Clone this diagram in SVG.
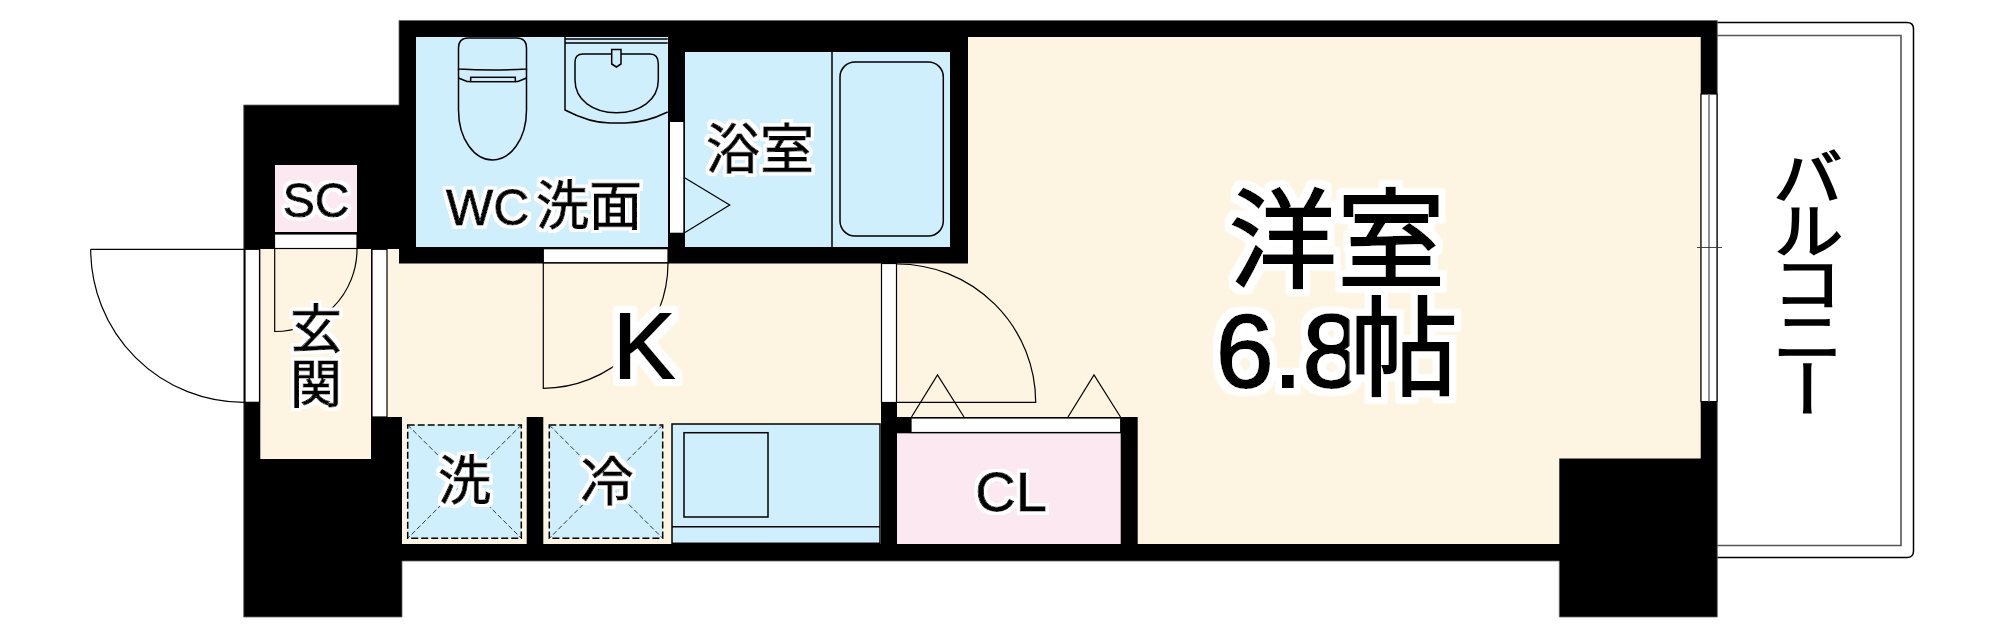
<svg xmlns="http://www.w3.org/2000/svg" width="1998" height="638" viewBox="0 0 1998 638">
<defs>
<filter id="h3" x="-30%" y="-30%" width="160%" height="160%"><feMorphology in="SourceAlpha" operator="dilate" radius="3"/><feGaussianBlur stdDeviation=".7"/><feComponentTransfer><feFuncA type="linear" slope="2"/></feComponentTransfer><feComposite in2="SourceAlpha" operator="over" result="a"/><feFlood flood-color="#fff"/><feComposite in2="a" operator="in"/><feMerge><feMergeNode/><feMergeNode in="SourceGraphic"/></feMerge></filter>
<filter id="h6" x="-30%" y="-30%" width="160%" height="160%"><feMorphology in="SourceAlpha" operator="dilate" radius="6"/><feGaussianBlur stdDeviation="1"/><feComponentTransfer><feFuncA type="linear" slope="2"/></feComponentTransfer><feComposite in2="SourceAlpha" operator="over" result="a"/><feFlood flood-color="#fff"/><feComposite in2="a" operator="in"/><feMerge><feMergeNode/><feMergeNode in="SourceGraphic"/></feMerge></filter>
</defs>
<style>
.t{fill:#000;stroke:#000;text-anchor:middle;filter:url(#h3);stroke-width:1px}
.lat{font-family:"Liberation Sans","Noto Sans CJK JP",sans-serif}
.j{font-family:"Noto Sans CJK JP","Liberation Sans",sans-serif}
.s{font-size:52px}
.big{font-size:108px;stroke-width:2px;filter:url(#h6)}
.l{fill:none;stroke:#000;stroke-width:1.5}
.th{fill:none;stroke:#000;stroke-width:1.2}
.w{fill:#fff;stroke:#000;stroke-width:1.2}
.b{fill:#cfeffd}
.p{fill:#fbe8f1}
.c{fill:#fdf5e2}
.pan{fill:#cfeffd;stroke:#000;stroke-width:1.5;stroke-dasharray:7 3}
.d{stroke:#223;stroke-width:.9;stroke-dasharray:5 2.5;fill:none}
</style>
<rect width="1998" height="638" fill="#fff"/>
<g id="balcony">
<path class="l" d="M1717 22.5H1907Q1913.5 22.5 1913.5 29V551Q1913.5 557.5 1907 557.5H1717"/>
<path fill="none" stroke="#555" stroke-width="1.6" d="M1717 35.5H1901V545.5H1717"/>
<text transform="translate(1808 146) scale(1.15 1)" x="0" y="0" font-size="62" letter-spacing="-9" stroke="#000" stroke-width="1.5" style="writing-mode:vertical-rl;font-family:'Noto Sans CJK JP',sans-serif;text-orientation:mixed">バルコニー</text>
</g>
<g id="walls">
<path fill="#000" stroke="#666" stroke-width=".8" d="M399 20.5H1717.3V617H1559.3V561H402V617H243.7V105H399Z"/>
</g>
<g id="room-main">
<path class="c" d="M387 249H399V263.5H968V37H1700.7V458.5H1559.3V544H1137.7V417H897V402.7H881V544H543.3V417H526.7V544H402V417H387Z"/>
<rect class="c" x="260.3" y="249" width="110.7" height="210"/>
</g>
<g id="room-wc">
<rect class="b" x="416" y="37" width="252" height="210"/>
<path class="l" d="M458.5 69V48Q458.5 38 468.5 38H516.5Q526.5 38 526.5 48V69Q492.5 71 458.5 69Z"/>
<path class="l" d="M458.5 69V110C458.5 140 475 160 492.5 160C510 160 526.5 140 526.5 110V69"/>
<path class="l" d="M458.5 78L467 81.5H470.7M515.3 81.5H518L526.5 78"/>
<rect class="l" x="470.7" y="77.3" width="44.6" height="4.4"/>
<path class="l" d="M565 37V110Q590 123 610 123H625Q645 123 667.7 112M565 39H667.7M565 43H667.7"/>
<path class="l" d="M583 54H650Q658.3 54 658.3 64V80C658.3 100 640 112.7 616.5 112.7C593 112.7 575 100 575 80V62Q575 54 583 54Z"/>
<path class="l" style="fill:#cfeffd" d="M611.7 49.5H621V64L616.4 67L611.7 64Z"/>
<text class="t lat s" y="225" style="text-anchor:start;font-size:50px"><tspan x="446">WC</tspan><tspan x="536" class="j" style="font-size:53px">洗面</tspan></text>
</g>
<g id="room-bath">
<rect class="b" x="685" y="52" width="265" height="195"/>
<path class="l" d="M832 52V247"/>
<rect class="l" x="840" y="62" width="103.3" height="174" rx="15"/>
<path class="th" d="M685 178L729.7 205L685 232.5"/>
<text class="t j s" x="760" y="169" style="font-size:54px">浴室</text>
</g>
<g id="room-sc">
<rect class="p" x="275" y="165" width="82" height="67"/>
<text class="t lat s" x="316" y="217" style="font-size:48px">SC</text>
</g>
<g id="pan-washer">
<rect class="pan" x="407.7" y="425" width="113.6" height="113.3"/>
<path class="d" d="M407.7 425L521.3 538.3M521.3 425L407.7 538.3"/>
<text class="t j s" x="464.5" y="500" style="font-size:53px">洗</text>
</g>
<g id="pan-fridge">
<rect class="pan" x="549.3" y="425" width="113.4" height="113.3"/>
<path class="d" d="M549.3 425L662.7 538.3M662.7 425L549.3 538.3"/>
<text class="t j s" x="607" y="501" style="font-size:53px">冷</text>
</g>
<g id="kitchen">
<rect class="b" x="672" y="424" width="208" height="119.3" stroke="#000" stroke-width="1.5"/>
<rect class="l" x="684" y="432.7" width="84" height="84.3"/>
<path class="l" d="M672 526.7H880"/>
</g>
<g id="closet">
<rect class="p" x="897" y="433.3" width="223.7" height="110.7"/>
<rect class="w" x="911" y="418" width="209.7" height="14.5"/>
<path class="th" d="M911.5 417L937.5 375L964 417M1068 417L1094 375L1120.5 417"/>
<text class="t lat" x="1011" y="511" font-size="56">CL</text>
</g>
<g id="doors-windows">
<rect class="w" x="274.5" y="234" width="82.5" height="14.5"/>
<rect class="w" x="543.3" y="248.7" width="124.7" height="14"/>
<rect fill="#fff" x="670" y="122" width="13.3" height="110.7"/>
<rect class="w" x="245" y="249.3" width="14.5" height="153"/>
<rect class="w" x="372" y="249.3" width="15" height="167.7"/>
<rect class="w" x="881.5" y="263.5" width="15" height="139"/>
<path class="th" d="M90.7 249.3H245M90.7 249.3A153 153 0 0 0 244 402.3"/>
<path class="th" d="M274.7 249V331.5A82.3 82.3 0 0 0 357 249"/>
<path class="th" d="M543.3 263V388.3A125 125 0 0 0 668 263"/>
<path class="th" d="M897 264A138.5 138.5 0 0 1 1035.7 402.3H897"/>
<rect class="w" x="1701" y="94" width="16" height="307.6"/>
<path stroke="#777" stroke-width="1.6" d="M1709 94V401.6"/>
<path stroke="#333" stroke-width=".9" d="M1697 247.5H1722"/>
</g>
<g id="labels">
<text class="t j s" x="316" y="348">玄</text>
<text class="t j s" x="316" y="403">関</text>
<text class="t lat big" x="644" y="378" style="font-size:92px">K</text>
<text class="t j big" x="1283" y="279">洋</text>
<text class="t j big" x="1391" y="279">室</text>
<text class="t lat big" x="1288" y="387" style="font-size:104px">6.8</text>
<text class="t j big" x="1404" y="387">帖</text>
</g>
</svg>
